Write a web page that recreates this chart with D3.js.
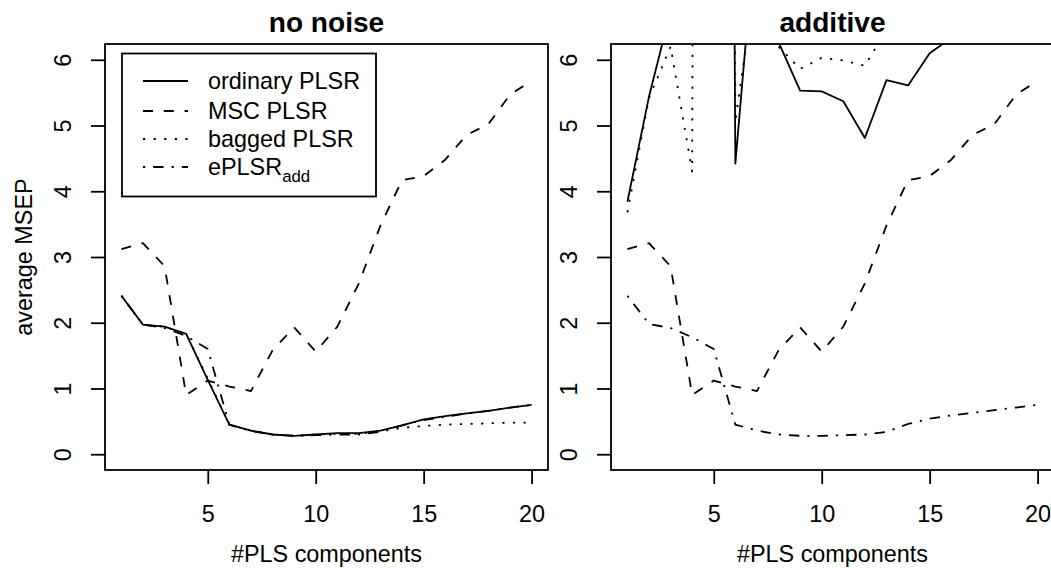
<!DOCTYPE html>
<html><head><meta charset="utf-8">
<script src="https://cdn.jsdelivr.net/npm/d3@7/dist/d3.min.js"></script>
<style>
body{margin:0;background:#fff}
svg{display:block}
text{font-family:"Liberation Sans",Arial,Helvetica,sans-serif;fill:#000}
</style>
</head><body>
<svg id="chart" width="1051" height="568"></svg>
<script>
// ---- data ----
const components = [1,2,3,4,5,6,7,8,9,10,11,12,13,14,15,16,17,18,19,20];

const noNoiseOrdinary = [2.41,1.97,1.94,1.83,1.13,0.45,0.36,0.30,0.28,0.30,0.32,0.32,0.36,0.44,0.53,0.58,0.62,0.66,0.71,0.75];
const noNoiseMSC      = [3.12,3.21,2.86,0.90,1.12,1.03,0.96,1.58,1.93,1.56,1.94,2.60,3.48,4.17,4.23,4.48,4.86,5.02,5.47,5.68];
const noNoiseBagged   = [2.41,1.97,1.94,1.83,1.15,0.45,0.36,0.30,0.28,0.30,0.31,0.31,0.35,0.40,0.43,0.45,0.46,0.47,0.48,0.48];
const noNoiseEPLSR    = [2.41,1.97,1.92,1.80,1.60,0.45,0.35,0.30,0.28,0.29,0.30,0.30,0.34,0.44,0.52,0.57,0.62,0.66,0.71,0.75];

const additiveOrdinary = [3.84,5.44,6.74,9.00,60.0,4.42,8.25,6.27,5.53,5.52,5.37,4.81,5.69,5.61,6.10,6.33,6.60,6.80,7.00,7.20];
const additiveMSC      = [3.12,3.21,2.86,0.90,1.12,1.03,0.96,1.58,1.93,1.56,1.94,2.60,3.48,4.17,4.23,4.48,4.86,5.02,5.47,5.68];
const additiveBagged   = [3.68,5.42,6.20,4.30,120.0,5.06,7.40,6.20,5.86,6.03,5.99,5.91,6.45,6.80,7.00,7.20,7.40,7.50,7.70,7.80];
const additiveEPLSR    = [2.41,1.98,1.92,1.78,1.60,0.45,0.36,0.30,0.28,0.28,0.29,0.30,0.34,0.46,0.54,0.59,0.63,0.67,0.71,0.75];

const xTicks = [5,10,15,20];
const yTicks = [0,1,2,3,4,5,6];
const panelTitles = ["no noise","additive"];
const legendLabels = ["ordinary PLSR","MSC PLSR","bagged PLSR","ePLSR"];
const legendSubscripts = ["","","","add"];
const xLabel = "#PLS components";
const yLabel = "average MSEP";

// ---- styling / layout ----
const FS = 23.4, LH = 28;
const dashes = [null, "10,10.8", "2.2,8.4", "2.2,8,10.4,8"];
const LW = 1.8;
const boxTop = 44, boxBottom = 470;
const panels = [
  {left:105, right:548, title:panelTitles[0], series:[noNoiseOrdinary,noNoiseMSC,noNoiseBagged,noNoiseEPLSR], ylab:true, legend:true},
  {left:611, right:1054, title:panelTitles[1], series:[additiveOrdinary,additiveMSC,additiveBagged,additiveEPLSR], ylab:false, legend:false}
];

const svg = d3.select("#chart");
svg.append("rect").attr("width",1051).attr("height",568).attr("fill","#fff");

const y = d3.scaleLinear().domain([-0.24, 6.24]).range([boxBottom, boxTop]);

panels.forEach((p, i) => {
  const x = d3.scaleLinear().domain([0.24, 20.76]).range([p.left, p.right]);
  const g = svg.append("g");
  const clipId = "clip" + i;
  svg.append("clipPath").attr("id", clipId).append("rect")
    .attr("x", p.left).attr("y", boxTop).attr("width", p.right - p.left).attr("height", boxBottom - boxTop);

  const line = d3.line().x((d, k) => x(components[k])).y(d => y(d));
  const lg = g.append("g").attr("clip-path", `url(#${clipId})`);
  p.series.forEach((s, k) => {
    lg.append("path").attr("d", line(s)).attr("fill","none").attr("stroke","#000")
      .attr("stroke-width", LW).attr("stroke-linejoin","round")
      .attr("stroke-dasharray", dashes[k]);
  });

  // box
  g.append("rect").attr("x", p.left).attr("y", boxTop).attr("width", p.right - p.left)
    .attr("height", boxBottom - boxTop).attr("fill","none").attr("stroke","#000").attr("stroke-width",1.8);

  // x axis
  const xa = d3.axisBottom(x).tickValues(xTicks).tickSize(14).tickFormat(d3.format("d"));
  const xg = g.append("g").attr("transform", `translate(0,${boxBottom})`).call(xa);
  xg.select(".domain").remove();
  xg.selectAll(".tick line").attr("stroke","#000").attr("stroke-width",1.8);
  xg.selectAll(".tick text").attr("y", null).attr("dy", null)
    .attr("transform", `translate(0,${1.87*LH})`).style("font-size", FS+"px")
    .style("font-family",'"Liberation Sans",Arial,sans-serif').attr("fill","#000");

  // y axis
  const ya = d3.axisLeft(y).tickValues(yTicks).tickSize(14).tickFormat(d3.format("d"));
  const yg = g.append("g").attr("transform", `translate(${p.left},0)`).call(ya);
  yg.select(".domain").remove();
  yg.selectAll(".tick line").attr("stroke","#000").attr("stroke-width",1.8);
  yg.selectAll(".tick text").attr("x", null).attr("dy", null).attr("y", null)
    .attr("transform", `translate(${-1.2*LH},0) rotate(-90)`)
    .attr("text-anchor","middle").style("font-size", FS+"px")
    .style("font-family",'"Liberation Sans",Arial,sans-serif').attr("fill","#000");

  // title
  g.append("text").attr("x", (p.left + p.right)/2).attr("y", boxTop - 12)
    .attr("text-anchor","middle").style("font-size", (FS*1.2)+"px").style("font-weight","bold")
    .text(p.title);

  // x label
  g.append("text").attr("x", (p.left + p.right)/2).attr("y", boxBottom + 3.3*LH)
    .attr("text-anchor","middle").style("font-size", FS+"px").text(xLabel);

  if (p.ylab) {
    g.append("text").attr("transform", `translate(${p.left - 2.6*LH},${(boxTop+boxBottom)/2}) rotate(-90)`)
      .attr("text-anchor","middle").style("font-size", FS+"px").text(yLabel);
  }

  if (p.legend) {
    const L = {x0:122, x1:376, y0:53.5, y1:196.5};
    const lgd = g.append("g");
    lgd.append("rect").attr("x",L.x0).attr("y",L.y0).attr("width",L.x1-L.x0).attr("height",L.y1-L.y0)
      .attr("fill","#fff").attr("stroke","#000").attr("stroke-width",1.8);
    const rows = [81,111,139,167];
    legendLabels.forEach((lab, k) => {
      lgd.append("line").attr("x1",143).attr("x2",188).attr("y1",rows[k]).attr("y2",rows[k])
        .attr("stroke","#000").attr("stroke-width",LW).attr("stroke-dasharray",dashes[k]);
      const t = lgd.append("text").attr("x",208).attr("y",rows[k]+8).style("font-size",FS+"px").text(lab);
      if (legendSubscripts[k]) {
        t.append("tspan").attr("dy",7).style("font-size",(FS*0.72)+"px").text(legendSubscripts[k]);
      }
    });
  }
});
</script>
</body></html>
